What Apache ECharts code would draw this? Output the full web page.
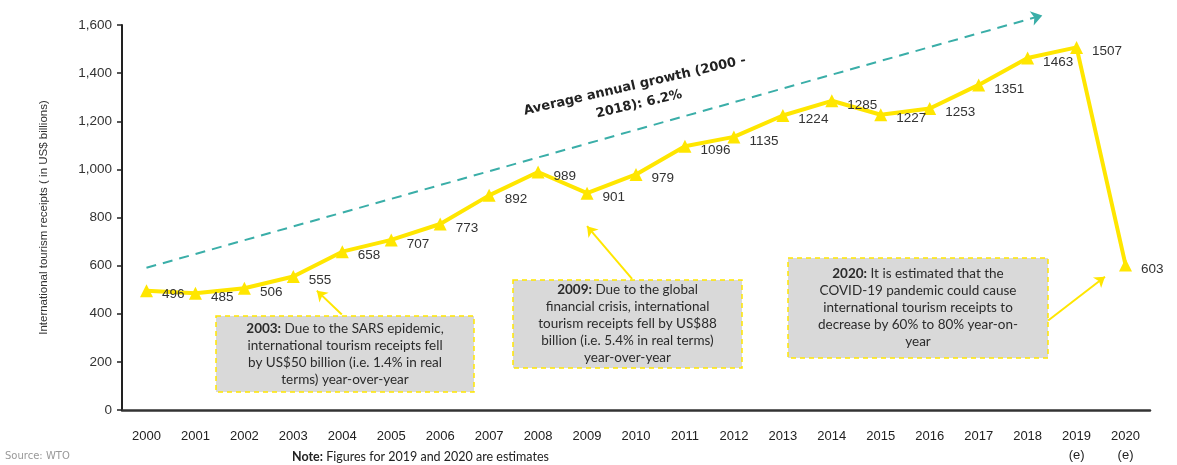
<!DOCTYPE html>
<html><head><meta charset="utf-8">
<script src="https://cdn.jsdelivr.net/npm/echarts@6/dist/echarts.min.js"></script>
<style>html,body{margin:0;padding:0;background:#fff}#c{width:1177px;height:465px}</style>
</head><body><div id="c"></div>
<script>
const years = ['2000','2001','2002','2003','2004','2005','2006','2007','2008','2009','2010','2011','2012','2013','2014','2015','2016','2017','2018','2019\n(e)','2020\n(e)'];
const receipts = [496,485,506,555,658,707,773,892,989,901,979,1096,1135,1224,1285,1227,1253,1351,1463,1507,603];
const yTicks = [0,200,400,600,800,1000,1200,1400,1600];
// trend arrow (category index, value)
const trend = [[0,591],[18.3,1640]];

const NARROW = "'Liberation Sans',Arial,sans-serif";
const chart = echarts.init(document.getElementById('c'));
const boxFont = "Lato,'Open Sans',sans-serif";
function box(x,y,w,h,bold,rest){
  return [
    {type:'rect',shape:{x:x,y:y,width:w,height:h},style:{fill:'#d9d9d9',stroke:'#ffe600',lineWidth:1.5,lineDash:[5,4]},z:50},
    {type:'text',x:x+w/2,y:y+h/2,z:51,style:{text:'{b|'+bold+'}'+rest,align:'center',verticalAlign:'middle',font:'13.5px '+boxFont,fill:'#2b2b2b',lineHeight:17,
      rich:{b:{fontWeight:'bold',fontFamily:boxFont,fontSize:13.5,fill:'#2b2b2b',lineHeight:17}}}}
  ];
}
chart.setOption({
  animation:false,
  grid:{left:122,right:27,top:25,bottom:53,containLabel:false},
  xAxis:[{type:'category',data:years,boundaryGap:true,
    axisLine:{lineStyle:{color:'#333',width:2.5}},axisTick:{show:false},
    axisLabel:{color:'#222',fontFamily:NARROW,fontSize:13,margin:17,lineHeight:19,interval:0}},
    {type:'value',min:-0.5,max:20.5,show:false}],
  yAxis:{type:'value',min:0,max:1600,interval:200,
    name:'International tourism receipts ( in US$ billions)',nameLocation:'middle',nameGap:72,
    nameTextStyle:{color:'#333',fontFamily:NARROW,fontSize:11.5},
    axisLine:{show:true,onZero:false,lineStyle:{color:'#222',width:2}},
    axisTick:{show:true,length:5,lineStyle:{color:'#222',width:1.5}},
    splitLine:{show:false},
    axisLabel:{color:'#333',fontFamily:NARROW,fontSize:13.5,margin:10,
      formatter:v=>yTicks.includes(v)?v.toLocaleString('en-US'):''}},
  series:[
    {type:'line',data:receipts,xAxisIndex:0,z:5,
      lineStyle:{color:'#ffe600',width:4},itemStyle:{color:'#ffe600'},
      symbol:'triangle',symbolSize:13,
      label:{show:true,position:'right',distance:9,offset:[0,4],color:'#333',fontFamily:NARROW,fontSize:13.5}},
    {type:'lines',coordinateSystem:'cartesian2d',xAxisIndex:1,yAxisIndex:0,clip:false,z:3,
      symbol:['none','arrow'],symbolSize:11,
      lineStyle:{color:'#3aaea8',width:2,type:[10,7],opacity:1},
      data:[{coords:trend}]},
    {type:'lines',coordinateSystem:'cartesian2d',xAxisIndex:1,yAxisIndex:0,clip:false,z:60,
      symbol:['none','arrow'],symbolSize:10,
      lineStyle:{color:'#ffe600',width:2,opacity:1},
      data:[{coords:[[3.99,397],[3.48,496]]},{coords:[[9.92,545],[9.0,764]]},{coords:[[18.42,372],[19.58,554]]}]}
  ],
  graphic:[
    ...box(216,316,258,76,'2003:',' Due to the SARS epidemic,\ninternational tourism receipts fell\nby US$50 billion (i.e. 1.4% in real\nterms) year-over-year'),
    ...box(513,280,229,88,'2009:',' Due to the global\nfinancial crisis, international\ntourism receipts fell by US$88\nbillion (i.e. 5.4% in real terms)\nyear-over-year'),
    ...box(788,258,260,100,'2020:',' It is estimated that the\nCOVID-19 pandemic could cause\ninternational tourism receipts to\ndecrease by 60% to 80% year-on-\nyear'),
    {type:'text',x:637,y:95,rotation:13*Math.PI/180,z:40,style:{text:'Average annual growth (2000 -\n2018): 6.2%',align:'center',verticalAlign:'middle',
      font:'bold 13px "DejaVu Sans",Verdana,sans-serif',fill:'#222',lineHeight:19}},
    {type:'text',left:5,top:451,style:{text:'Source: WTO',font:'10px "DejaVu Sans",sans-serif',fill:'#999'}},
    {type:'text',left:292,top:450,style:{text:'{b|Note:} Figures for 2019 and 2020 are estimates',font:'12.5px '+boxFont,fill:'#222',
      rich:{b:{fontWeight:'bold',fontFamily:boxFont,fontSize:12.5,fill:'#222'}}}}
  ]
});
</script></body></html>
